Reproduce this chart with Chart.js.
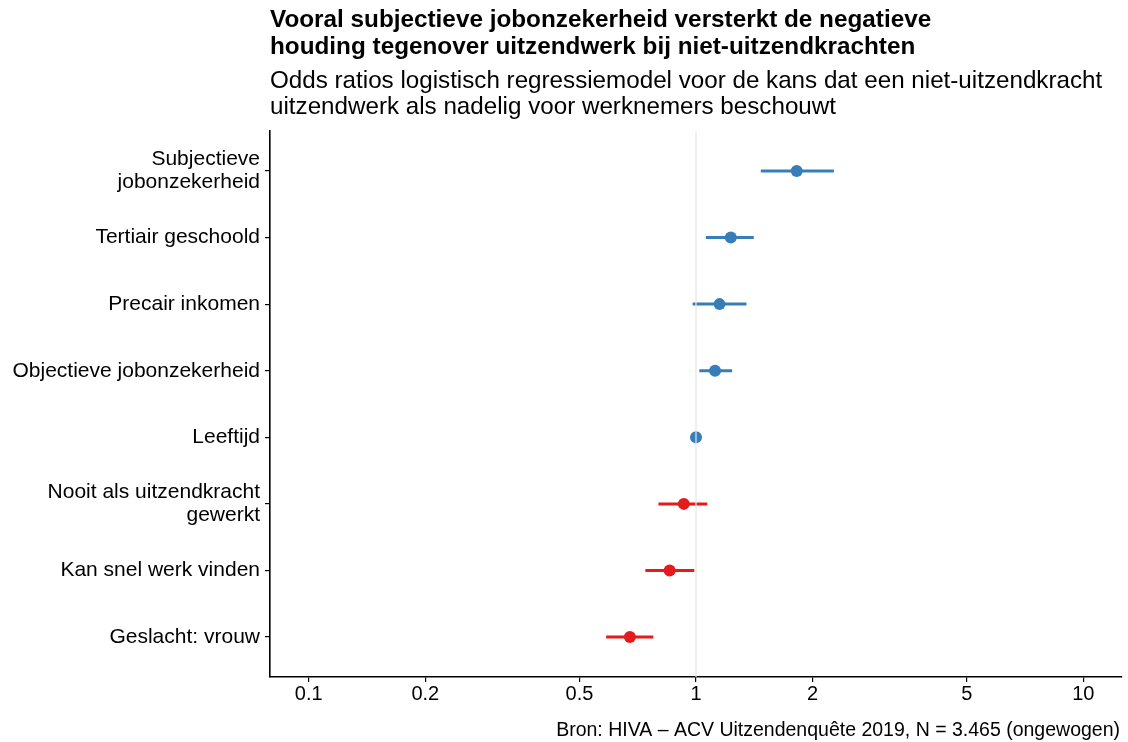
<!DOCTYPE html>
<html>
<head>
<meta charset="utf-8">
<script src="https://cdn.jsdelivr.net/npm/chart.js@4.4.1/dist/chart.umd.min.js"></script>
<style>
  html, body { margin: 0; padding: 0; background: #fff; }
  #wrap { width: 1128px; height: 742px; }
</style>
</head>
<body>
<div id="wrap"><canvas id="orChart" width="1128" height="742"></canvas></div>
<script>
// data (odds ratios, 95% CI)
const labels = [
  ["Subjectieve", "jobonzekerheid"],
  "Tertiair geschoold",
  "Precair inkomen",
  "Objectieve jobonzekerheid",
  "Leeftijd",
  ["Nooit als uitzendkracht", "gewerkt"],
  "Kan snel werk vinden",
  "Geslacht: vrouw"
];
const oddsRatio = [1.82, 1.23, 1.15, 1.12, 1.00, 0.93, 0.855, 0.675];
const ciLow     = [1.47, 1.06, 0.98, 1.02, 0.995, 0.80, 0.74, 0.586];
const ciHigh    = [2.27, 1.41, 1.35, 1.24, 1.005, 1.07, 0.99, 0.776];
const xTicks = [0.1, 0.2, 0.5, 1, 2, 5, 10];

const title = ["Vooral subjectieve jobonzekerheid versterkt de negatieve",
               "houding tegenover uitzendwerk bij niet-uitzendkrachten"];
const subtitle = ["Odds ratios logistisch regressiemodel voor de kans dat een niet-uitzendkracht",
                  "uitzendwerk als nadelig voor werknemers beschouwt"];
const caption = "Bron: HIVA \u2013 ACV Uitzendenquête 2019, N = 3.465 (ongewogen)";

const BLUE = "#377eb8";
const RED = "#e41a1c";
const FONT = "'Liberation Sans', Arial, Helvetica, sans-serif";

const colorOf = i => (oddsRatio[i] >= 1 ? BLUE : RED);

const datasets = [];
// reference line at OR = 1
datasets.push({
  type: "line",
  data: [{ x: 1, y: 0.4 }, { x: 1, y: 8.6 }],
  borderColor: "#e6e6e6",
  borderWidth: 1.2,
  pointRadius: 0
});
oddsRatio.forEach((v, i) => {
  datasets.push({
    type: "line",
    data: [{ x: ciLow[i], y: i + 1 }, { x: ciHigh[i], y: i + 1 }],
    borderColor: colorOf(i),
    borderWidth: 3,
    pointRadius: 0
  });
});
datasets.push({
  type: "scatter",
  data: oddsRatio.map((v, i) => ({ x: v, y: i + 1 })),
  backgroundColor: oddsRatio.map((v, i) => colorOf(i)),
  borderWidth: 0,
  pointRadius: 6,
  pointHoverRadius: 6
});

const textPlugin = {
  id: "texts",
  afterDraw(chart) {
    const ctx = chart.ctx;
    const left = chart.chartArea.left;
    ctx.save();
    ctx.fillStyle = "#000";
    ctx.textBaseline = "alphabetic";
    ctx.textAlign = "left";
    ctx.font = "bold 24.3px " + FONT;
    ctx.fillText(title[0], left, 27);
    ctx.fillText(title[1], left, 54);
    ctx.font = "24.2px " + FONT;
    ctx.fillText(subtitle[0], left, 87.5);
    ctx.fillText(subtitle[1], left, 114);
    ctx.font = "19.5px " + FONT;
    ctx.textAlign = "right";
    ctx.fillText(caption, 1120, 736);
    ctx.restore();
  }
};

new Chart(document.getElementById("orChart").getContext("2d"), {
  type: "scatter",
  data: { datasets },
  plugins: [textPlugin],
  options: {
    responsive: false,
    animation: false,
    events: [],
    layout: { padding: { left: 0, right: 6, top: 131, bottom: 32 } },
    plugins: { legend: { display: false }, tooltip: { enabled: false } },
    scales: {
      x: {
        type: "logarithmic",
        min: Math.pow(10, -1.1),
        max: Math.pow(10, 1.1),
        afterBuildTicks: s => { s.ticks = xTicks.map(v => ({ value: v })); },
        afterFit: s => { s.height = 33; },
        ticks: {
          color: "#000",
          font: { family: FONT, size: 20 },
          padding: 0,
          maxRotation: 0,
          autoSkip: false,
          callback: v => String(v)
        },
        grid: { drawOnChartArea: false, drawTicks: true, tickLength: 5, color: "#000", lineWidth: 1.2 },
        border: { display: true, color: "#000", width: 1.6 }
      },
      y: {
        type: "linear",
        reverse: true,
        min: 0.4,
        max: 8.6,
        afterBuildTicks: s => { s.ticks = labels.map((l, i) => ({ value: i + 1 })); },
        afterFit: s => { s.width = 270; },
        ticks: {
          color: "#000",
          font: { family: FONT, size: 21, lineHeight: 1.1 },
          padding: 5,
          autoSkip: false,
          callback: v => labels[v - 1]
        },
        grid: { drawOnChartArea: false, drawTicks: true, tickLength: 5, color: "#000", lineWidth: 1.2 },
        border: { display: true, color: "#000", width: 1.6 }
      }
    }
  }
});
</script>
</body>
</html>
